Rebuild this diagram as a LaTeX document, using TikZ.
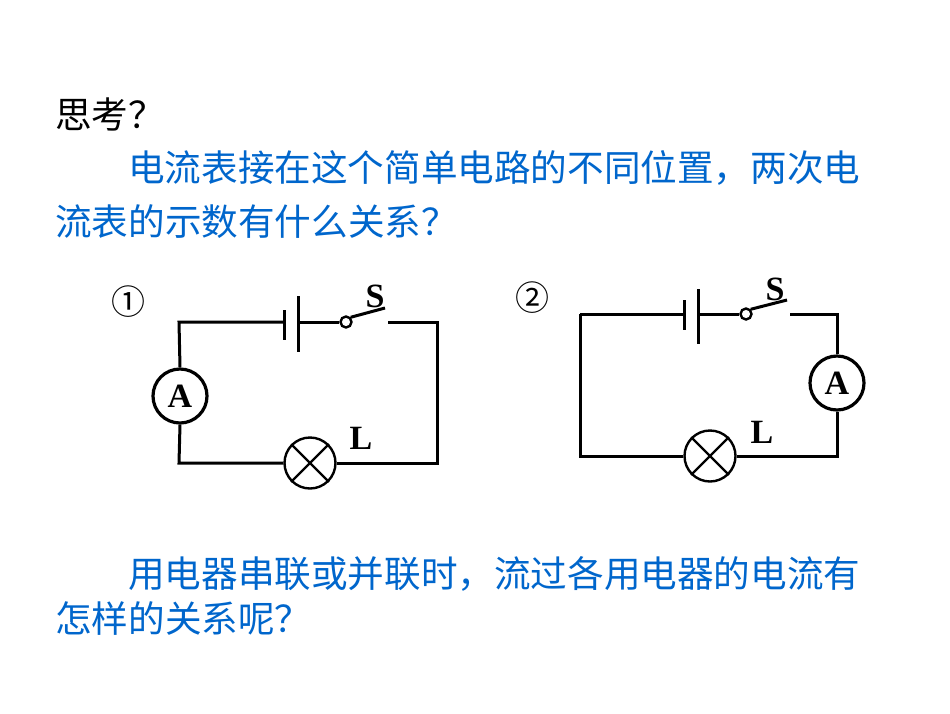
\documentclass[tikz,border=0pt]{standalone}
\usepackage{fontspec}
\setmainfont{Liberation Serif}
\newfontfamily\cjk{Noto Sans CJK SC}
\definecolor{txtblue}{RGB}{0,102,204}
\begin{document}
\begin{tikzpicture}[x=1pt,y=-1pt,
  wire/.style={line width=3pt},
  meter/.style={circle,draw,line width=3.2pt,minimum size=54pt,inner sep=0pt,font=\fontsize{34}{34}\selectfont\bfseries},
  lamp/.style={circle,draw,line width=2.4pt,minimum size=51pt,inner sep=0pt},
  lbl/.style={font=\fontsize{34}{34}\selectfont\bfseries,inner sep=0pt},
  cn/.style={font=\fontsize{36.6}{36.6}\selectfont\cjk,anchor=west,inner sep=0pt},
  num/.style={font=\fontsize{34}{34}\selectfont\cjk,inner sep=0pt}]
\useasboundingbox (0,0) rectangle (950,713);
\node[cn] (t0) at (55,114) {思考？};
\node[cn,txtblue] (t1) at (128,168) {电流表接在这个简单电路的不同位置，两次电};
\node[cn,txtblue] (t2) at (55,222) {流表的示数有什么关系？};
\node[cn,txtblue] (t3) at (128,574) {用电器串联或并联时，流过各用电器的电流有};
\node[cn,txtblue] (t4) at (55,618) {怎样的关系呢？};
% circuit 1
\node[num] (n1) at (128,302) {①};
\node[meter] (A1) at (180,396) {A};
\node[lamp] (L1) at (310,463) {};
\draw[line width=2.4pt] (L1.north east)--(L1.south west) (L1.north west)--(L1.south east);
\coordinate (tl1) at (179,322); \coordinate (tr1) at (437,322);
\coordinate (bl1) at (179,463); \coordinate (br1) at (437,463);
\coordinate (bs1) at (284,322); \coordinate (bl1p) at (298,322);
\node[circle,draw,line width=2.4pt,minimum size=11pt,inner sep=0pt] (sw1) at (346,322) {};
\coordinate (se1) at (385,308); \coordinate (sr1) at (388,322);
\draw[wire] (A1.north)--(tl1)--(bs1);
\draw[wire] (284,310)--(284,340) (298,296)--(298,352);
\draw[wire] (bl1p)--(sw1.west);
\draw[wire] (sw1.north east)--(se1);
\draw[wire] (sr1)--(tr1)--(br1)--(L1.east);
\draw[wire] (L1.west)--(bl1)--(A1.south);
\node[lbl] (S1) at (375,296) {S};
\node[lbl] (Ll1) at (361,438) {L};
% circuit 2
\node[num] (n2) at (532,298) {②};
\node[meter] (A2) at (837,383) {A};
\node[lamp] (L2) at (710,456) {};
\draw[line width=2.4pt] (L2.north east)--(L2.south west) (L2.north west)--(L2.south east);
\coordinate (tl2) at (580,314); \coordinate (tr2) at (837,314);
\coordinate (bl2) at (580,456); \coordinate (br2) at (837,456);
\node[circle,draw,line width=2.4pt,minimum size=11pt,inner sep=0pt] (sw2) at (746,314) {};
\coordinate (se2) at (787,300);
\draw[wire] (tl2)--(684,314);
\draw[wire] (684,300)--(684,330) (698,289)--(698,344);
\draw[wire] (698,314)--(sw2.west);
\draw[wire] (sw2.north east)--(se2);
\draw[wire] (790,314)--(tr2)--(A2.north);
\draw[wire] (A2.south)--(br2)--(L2.east);
\draw[wire] (L2.west)--(bl2)--(tl2);
\node[lbl] (S2) at (775,289) {S};
\node[lbl] (Ll2) at (762,432) {L};
\end{tikzpicture}
\end{document}
